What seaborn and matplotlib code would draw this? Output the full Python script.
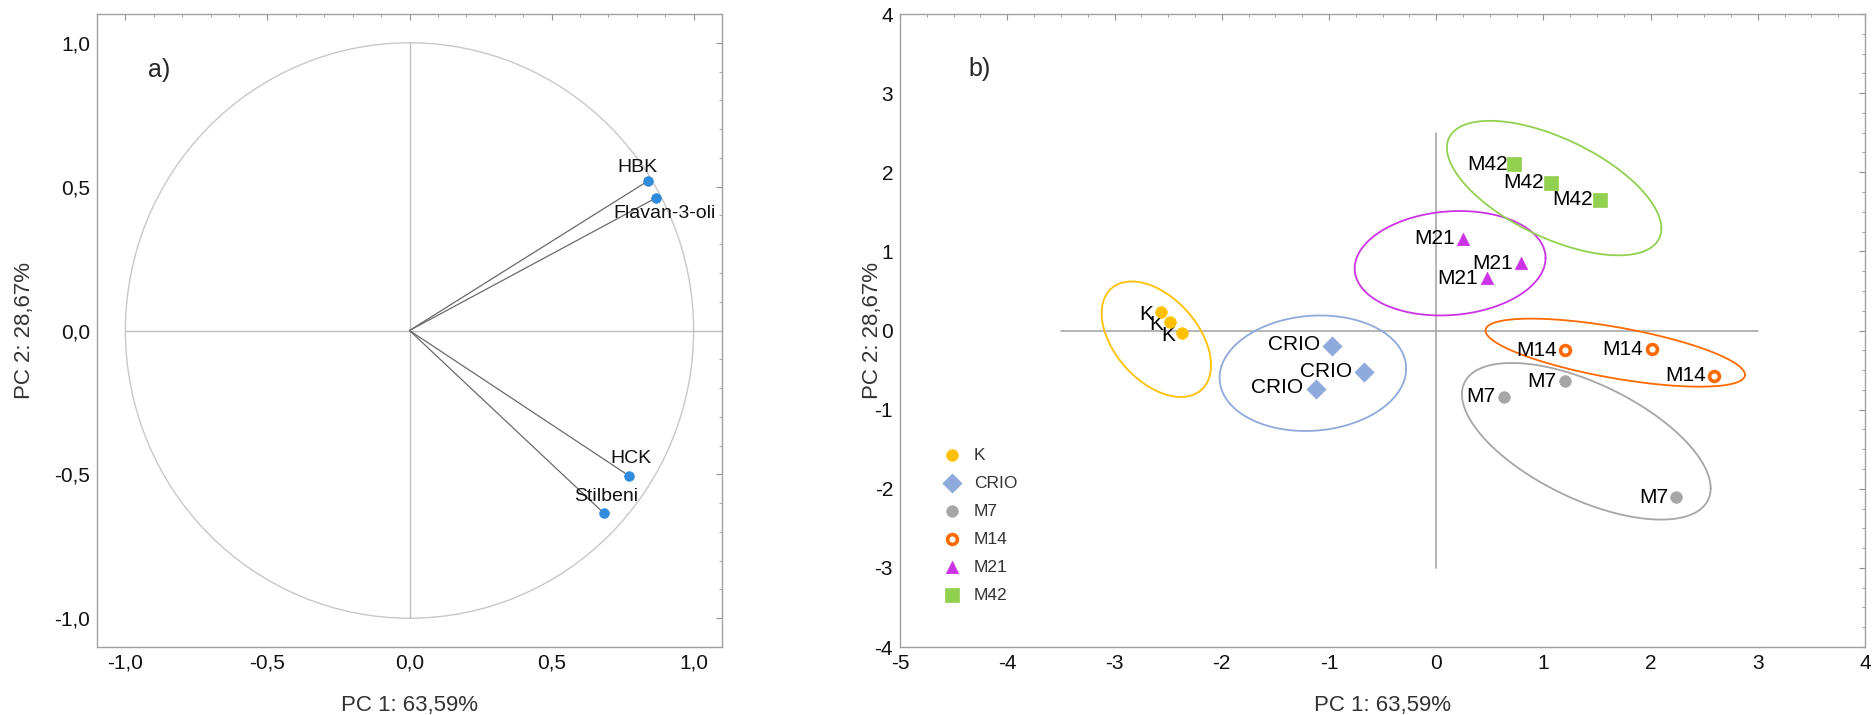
import numpy as np
import pandas as pd
import matplotlib
matplotlib.use("Agg")
import matplotlib.pyplot as plt
from matplotlib.patches import Circle
from matplotlib.ticker import MultipleLocator, FuncFormatter
import seaborn as sns

# panel a) - loadings
var_names = ["HBK", "Flavan-3-oli", "HCK", "Stilbeni"]
load_pc1 = [0.838, 0.868, 0.771, 0.683]
load_pc2 = [0.519, 0.461, -0.504, -0.634]

# panel b) - scores
groups = ["K", "CRIO", "M7", "M14", "M21", "M42"]
score_group = (["K"] * 3 + ["CRIO"] * 3 + ["M7"] * 3 + ["M14"] * 3
               + ["M21"] * 3 + ["M42"] * 3)
score_pc1 = [-2.57, -2.48, -2.37,
             -0.97, -0.67, -1.12,
             1.20, 0.63, 2.24,
             1.20, 2.01, 2.59,
             0.25, 0.79, 0.47,
             0.73, 1.07, 1.53]
score_pc2 = [0.24, 0.11, -0.03,
             -0.20, -0.53, -0.74,
             -0.64, -0.84, -2.11,
             -0.25, -0.24, -0.57,
             1.16, 0.85, 0.66,
             2.10, 1.87, 1.65]

# group ellipses: centre, half extents, tilt
ell_cx = [-2.61, -1.15, 1.40, 1.67, 0.13, 1.10]
ell_cy = [-0.11, -0.54, -1.40, -0.28, 0.85, 1.80]
ell_hx = [0.51, 0.87, 1.16, 1.21, 0.89, 1.00]
ell_hy = [0.73, 0.73, 0.99, 0.43, 0.66, 0.85]
ell_r = [-0.45, 0.08, -0.60, -0.65, 0.10, -0.60]

colors = {"K": "#FFC000", "CRIO": "#8EA9DB", "M7": "#A6A6A6",
          "M14": "#FF6A00", "M21": "#CC33E6", "M42": "#92D050"}
markers = {"K": "o", "CRIO": "D", "M7": "o", "M14": "o", "M21": "^", "M42": "s"}
msize = {"K": 70, "CRIO": 95, "M7": 70, "M14": 50, "M21": 80, "M42": 95}
lab_off = {"K": (-5, -2), "CRIO": (-9, 1), "M7": (-6, 0),
           "M14": (-6, 0), "M21": (-6, 0), "M42": (-5, 0)}

sns.set_style("white")
plt.rcParams["font.family"] = ["Liberation Sans", "DejaVu Sans"]
plt.rcParams["axes.unicode_minus"] = False

comma = FuncFormatter(lambda v, p: f"{v:.1f}".replace(".", ","))
intfmt = FuncFormatter(lambda v, p: f"{v:.0f}")

fig = plt.figure(figsize=(18.72, 7.15), dpi=100)
ax1 = fig.add_axes([0.0518, 0.0951, 0.3339, 0.8853])
ax2 = fig.add_axes([0.4808, 0.0951, 0.5155, 0.8853])

for ax in (ax1, ax2):
    for s in ax.spines.values():
        s.set_color("#a0a0a0")
        s.set_linewidth(1.0)
    ax.tick_params(which="both", direction="in", top=True, right=True,
                   color="#909090", labelsize=15, labelcolor="#111111", pad=5)
    ax.tick_params(which="major", length=4)
    ax.tick_params(which="minor", length=2.5)

# ---- a) loadings
df_load = pd.DataFrame({"PC1": load_pc1, "PC2": load_pc2, "var": var_names})
ax1.add_patch(Circle((0, 0), 1, fill=False, ec="#c8c8c8", lw=1))
ax1.plot([0, 0], [-1, 1], color="#c0c0c0", lw=1)
ax1.plot([-1, 1.1], [0, 0], color="#c0c0c0", lw=1)
for x, y in zip(load_pc1, load_pc2):
    ax1.plot([0, x], [0, y], color="#6a6a6a", lw=0.9)
sns.scatterplot(data=df_load, x="PC1", y="PC2", color="#2F8BDB",
                edgecolor="#2F8BDB", s=48, ax=ax1, zorder=3)
txt_off = [(-7, 10), (6, -11), (2, 12), (2, 12)]
for x, y, name, off in zip(load_pc1, load_pc2, var_names, txt_off):
    ax1.annotate(name, (x, y), xytext=off, textcoords="offset points",
                 ha="center", va="center", fontsize=14, color="#111111")
ax1.text(-0.88, 0.907, "a)", fontsize=18, ha="center", va="center")
ax1.set_xlim(-1.1, 1.1)
ax1.set_ylim(-1.1, 1.1)
ax1.xaxis.set_major_locator(MultipleLocator(0.5))
ax1.yaxis.set_major_locator(MultipleLocator(0.5))
ax1.xaxis.set_minor_locator(MultipleLocator(0.1))
ax1.yaxis.set_minor_locator(MultipleLocator(0.1))
ax1.xaxis.set_major_formatter(comma)
ax1.yaxis.set_major_formatter(comma)
ax1.set_xlabel("PC 1: 63,59%", fontsize=16, color="#333333", labelpad=16)
ax1.set_ylabel("PC 2: 28,67%", fontsize=16, color="#333333")
ax1.yaxis.set_label_coords(-0.099, 0.5)

# ---- b) scores
df = pd.DataFrame({"PC1": score_pc1, "PC2": score_pc2, "group": score_group})
ax2.plot([0, 0], [-3, 2.5], color="#a8a8a8", lw=1.2)
ax2.plot([-3.5, 3], [0, 0], color="#a8a8a8", lw=1.2)

t = np.linspace(0, 2 * np.pi, 300)
for g, cx, cy, hx, hy, r in zip(groups, ell_cx, ell_cy, ell_hx, ell_hy, ell_r):
    ex = cx + hx * np.cos(t)
    ey = cy + hy * (r * np.cos(t) + np.sqrt(1 - r ** 2) * np.sin(t))
    ax2.plot(ex, ey, color=colors[g], lw=1.3)

for g in groups:
    sub = df[df["group"] == g]
    if g == "M14":
        sns.scatterplot(data=sub, x="PC1", y="PC2", marker="o", s=msize[g],
                        color="white", edgecolor=colors[g], linewidth=2.6,
                        ax=ax2, label=g, zorder=4)
    else:
        sns.scatterplot(data=sub, x="PC1", y="PC2", marker=markers[g],
                        s=msize[g], color=colors[g], edgecolor=colors[g],
                        linewidth=0.5, ax=ax2, label=g, zorder=4)
    for x, y in zip(sub["PC1"], sub["PC2"]):
        ax2.annotate(g, (x, y), xytext=lab_off[g], textcoords="offset points",
                     ha="right", va="center", fontsize=15, color="#000000")

ax2.text(-4.26, 3.3, "b)", fontsize=18, ha="center", va="center")
ax2.set_xlim(-5, 4)
ax2.set_ylim(-4, 4)
ax2.xaxis.set_major_locator(MultipleLocator(1))
ax2.yaxis.set_major_locator(MultipleLocator(1))
ax2.xaxis.set_minor_locator(MultipleLocator(0.25))
ax2.yaxis.set_minor_locator(MultipleLocator(0.25))
ax2.xaxis.set_major_formatter(intfmt)
ax2.yaxis.set_major_formatter(intfmt)
ax2.set_xlabel("PC 1: 63,59%", fontsize=16, color="#333333", labelpad=16)
ax2.set_ylabel("PC 2: 28,67%", fontsize=16, color="#333333")
ax2.yaxis.set_label_coords(-0.018, 0.5)
ax2.legend(loc="upper left", bbox_to_anchor=(0.029, 0.340), frameon=False,
           fontsize=12.5, labelspacing=0.74, handlelength=1.0,
           handletextpad=0.75, labelcolor="#333333")

fig.savefig("out.png", dpi=100)
